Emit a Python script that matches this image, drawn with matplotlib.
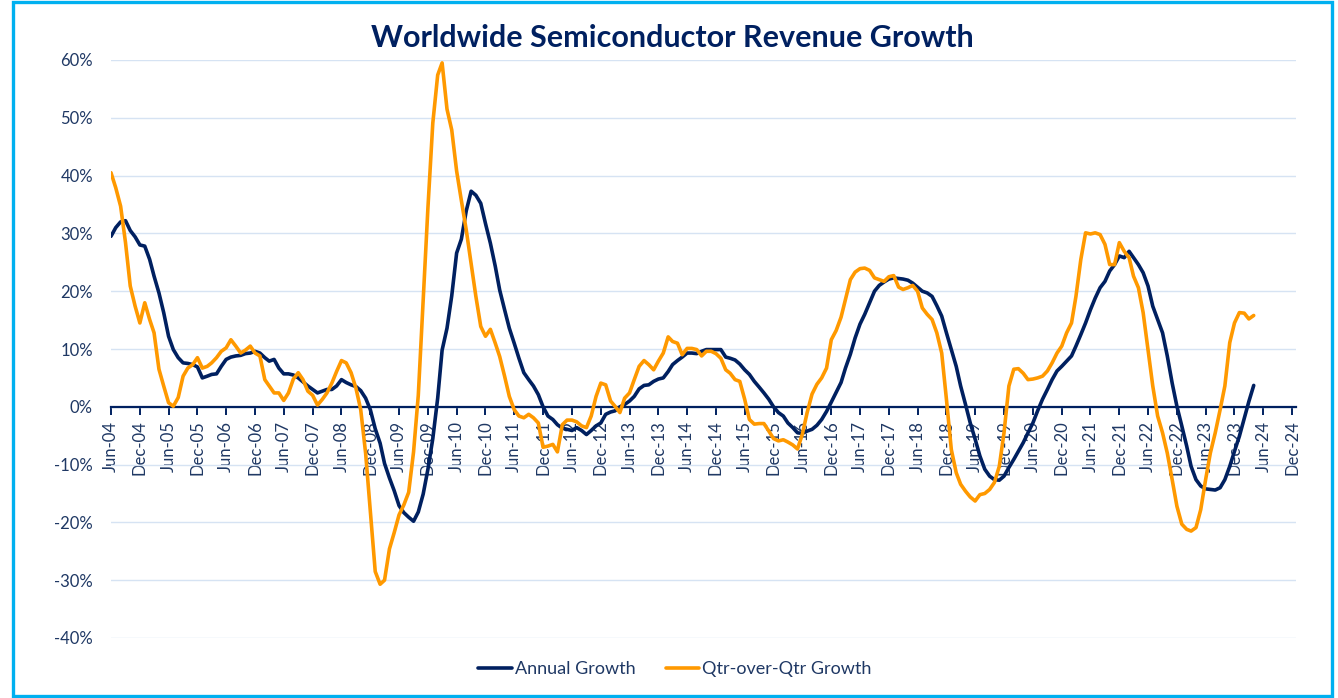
import numpy as np
import pandas as pd
import matplotlib
matplotlib.use('Agg')
import matplotlib.pyplot as plt
import matplotlib.dates as mdates
from matplotlib.ticker import FuncFormatter
from matplotlib.patches import Rectangle

# monthly values (%), Jun-04 .. Apr-24
annual_growth = [
    29.5, 31.0, 32.0, 32.2, 30.5, 29.4, 28.0, 27.8, 25.5, 22.6, 19.7, 16.3,
    12.2, 9.9, 8.5, 7.6, 7.5, 7.3, 6.9, 5.0, 5.3, 5.6, 5.7, 7.0,
    8.2, 8.6, 8.8, 8.9, 9.2, 9.3, 9.6, 9.3, 8.5, 7.9, 8.2, 6.7,
    5.7, 5.7, 5.5, 5.0, 4.3, 3.6, 3.0, 2.4, 2.7, 3.0, 3.0, 3.6,
    4.7, 4.2, 3.8, 3.5, 2.8, 1.5, -0.5, -3.8, -6.3, -9.8, -12.3, -14.5,
    -17.1, -18.3, -19.1, -19.8, -18.2, -15.1, -10.8, -5.5, 1.5, 9.8, 13.6, 19.2,
    26.6, 29.0, 33.9, 37.3, 36.6, 35.2, 31.7, 28.3, 24.3, 20.2, 16.8, 13.6,
    11.0, 8.4, 5.9, 4.7, 3.6, 2.1, 0.0, -1.6, -2.2, -3.1, -3.7, -3.9,
    -4.1, -3.6, -4.1, -4.8, -4.1, -3.3, -2.8, -1.3, -0.9, -0.7, 0.0, 0.4,
    1.0, 1.8, 3.1, 3.7, 3.8, 4.4, 4.8, 5.0, 6.1, 7.3, 8.0, 8.6,
    9.3, 9.3, 9.2, 9.6, 9.9, 9.9, 9.9, 9.9, 8.6, 8.4, 8.1, 7.4,
    6.4, 5.6, 4.4, 3.4, 2.4, 1.3, 0.0, -1.0, -1.6, -2.8, -3.6, -4.5,
    -4.6, -4.2, -3.9, -3.2, -2.2, -0.8, 0.8, 2.5, 4.2, 6.7, 9.1, 11.9,
    14.3, 16.0, 18.0, 20.0, 21.0, 21.6, 22.1, 22.3, 22.2, 22.1, 21.9, 21.4,
    20.7, 20.0, 19.7, 19.1, 17.5, 15.7, 12.8, 9.9, 7.0, 3.6, 0.4, -2.8,
    -5.6, -8.5, -10.8, -12.0, -12.6, -12.7, -12.0, -10.5, -9.1, -7.7, -6.2, -4.5,
    -2.8, -0.7, 1.3, 3.0, 4.7, 6.2, 7.0, 7.9, 8.8, 10.5, 12.5, 14.5,
    16.8, 18.8, 20.6, 21.7, 23.5, 24.6, 26.1, 25.8, 26.9, 25.8, 24.6, 23.2,
    20.9, 17.4, 15.1, 12.8, 8.8, 4.1, 0.1, -3.3, -6.8, -10.3, -12.6, -13.7,
    -14.2, -14.3, -14.4, -14.0, -12.6, -10.3, -7.7, -5.1, -2.0, 0.9, 3.7,
]
qoq_growth = [
    40.5, 37.9, 34.7, 28.4, 20.9, 17.4, 14.5, 18.0, 15.1, 12.8, 6.5, 3.6,
    0.7, 0.1, 1.6, 5.3, 6.7, 7.3, 8.5, 6.7, 7.0, 7.6, 8.5, 9.6,
    10.2, 11.6, 10.5, 9.3, 9.8, 10.5, 9.3, 8.8, 4.7, 3.6, 2.4, 2.4,
    1.1, 2.4, 4.8, 5.9, 4.7, 2.7, 2.0, 0.3, 1.3, 2.4, 4.1, 6.1,
    8.0, 7.6, 5.9, 3.2, -0.5, -8.0, -18.0, -28.5, -30.7, -30.0, -24.6, -21.8,
    -18.7, -17.0, -14.8, -7.8, 2.0, 18.3, 34.4, 49.1, 57.4, 59.5, 51.5, 47.9,
    40.8, 35.7, 30.6, 24.8, 19.1, 13.9, 12.2, 13.4, 11.0, 8.7, 5.3, 1.8,
    -0.5, -1.6, -1.9, -1.3, -1.9, -2.8, -7.0, -6.8, -6.5, -7.8, -3.1, -2.3,
    -2.3, -2.6, -3.3, -3.6, -1.6, 1.8, 4.1, 3.8, 1.0, 0.1, -1.0, 1.5,
    2.4, 4.7, 7.0, 8.0, 7.3, 6.4, 7.9, 9.3, 12.1, 11.3, 11.0, 9.0,
    10.1, 10.1, 9.9, 8.8, 9.6, 9.6, 9.2, 8.4, 6.4, 5.8, 4.7, 4.4,
    1.3, -2.2, -3.0, -2.9, -2.9, -4.2, -5.5, -5.9, -5.7, -6.1, -6.6, -7.3,
    -4.7, -1.0, 2.2, 3.9, 5.0, 6.7, 11.6, 13.2, 15.5, 18.6, 22.0, 23.3,
    23.9, 24.0, 23.6, 22.3, 22.0, 21.7, 22.5, 22.7, 20.7, 20.3, 20.6, 21.0,
    20.0, 17.1, 16.0, 15.1, 12.8, 9.3, 1.3, -7.4, -11.4, -13.4, -14.6, -15.6,
    -16.3, -15.2, -15.0, -14.3, -13.1, -10.3, -4.5, 3.6, 6.5, 6.6, 5.8, 4.7,
    4.8, 5.0, 5.3, 6.2, 7.6, 9.3, 10.5, 12.8, 14.5, 19.1, 25.5, 30.1,
    29.9, 30.1, 29.8, 28.1, 24.6, 24.6, 28.4, 26.9, 25.8, 22.6, 20.6, 16.3,
    9.9, 3.6, -1.6, -4.5, -8.0, -12.6, -17.2, -20.3, -21.2, -21.5, -20.9, -17.8,
    -12.6, -8.0, -4.5, -0.5, 3.6, 11.1, 14.5, 16.3, 16.2, 15.2, 15.8,
]
months = pd.date_range('2004-06-01', periods=len(annual_growth), freq='MS')
tick_dates = pd.date_range('2004-06-01', '2024-12-01', freq='6MS')
y_ticks = list(range(-40, 61, 10))

navy = '#002060'
orange = '#FF9900'
txt = '#1F3864'

plt.rcParams['font.family'] = ['Lato', 'DejaVu Sans']

fig = plt.figure(figsize=(13.38, 6.98), dpi=100)
ax = fig.add_axes([111/1338, 60/698, 1185/1338, 578/698])

ax.plot(months, annual_growth, color=navy, lw=2.6, label='Annual Growth',
        solid_capstyle='round', solid_joinstyle='round', zorder=3)
ax.plot(months, qoq_growth, color=orange, lw=2.6, label='Qtr-over-Qtr Growth',
        solid_capstyle='round', solid_joinstyle='round', zorder=4)

ax.set_ylim(-40, 60)
ax.set_yticks(y_ticks)
ax.yaxis.set_major_formatter(FuncFormatter(lambda v, p: '%d%%' % v))
ax.set_xlim(pd.Timestamp('2004-06-01'), pd.Timestamp('2024-12-25'))
ax.set_xticks(tick_dates)
ax.xaxis.set_major_formatter(mdates.DateFormatter('%b-%y'))

ax.grid(axis='y', color='#D6E3F3', lw=1.0, zorder=0)
for s in ['left', 'right', 'top']:
    ax.spines[s].set_visible(False)
ax.spines['bottom'].set_position(('data', 0))
ax.spines['bottom'].set_color(navy)
ax.spines['bottom'].set_linewidth(1.6)
ax.spines['bottom'].set_zorder(2)

ax.tick_params(axis='y', length=0, pad=13, labelsize=12, labelcolor=txt)
ax.tick_params(axis='x', length=6, width=1.4, color=navy, direction='out',
               pad=4, labelsize=12, labelcolor=txt, labelrotation=90)

fig.text(0.5026, 1 - 38/698, 'Worldwide Semiconductor Revenue Growth',
         ha='center', va='center', fontsize=22, fontweight='bold', color=navy)

fig.legend(loc='center', bbox_to_anchor=(0.5045, 29/698), ncol=2, frameon=False,
           fontsize=13, handlelength=1.85, handletextpad=0.18, columnspacing=1.65,
           labelcolor=txt)

fig.patches.append(Rectangle((13/1338, 2/698), 1319/1338, 694/698,
                             transform=fig.transFigure, fill=False,
                             edgecolor='#00B0F0', lw=2.4))

fig.savefig('out.png', dpi=100)
